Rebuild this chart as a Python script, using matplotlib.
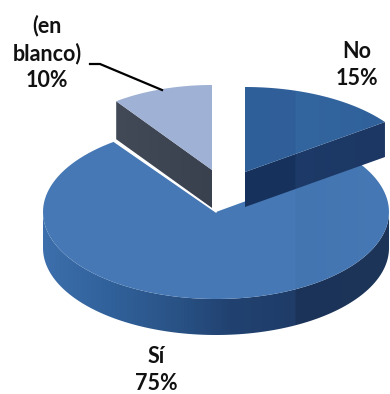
import numpy as np
import matplotlib
matplotlib.use("Agg")
import matplotlib.pyplot as plt
from matplotlib.colors import to_rgb
from matplotlib.patches import Polygon

labels = ["No", "Sí", "(en\nblanco)"]
values = [15, 75, 10]

def pt(cx, cy, rx, ry, ang):
    # ang in degrees, clockwise from the top
    a = np.radians(ang)
    return cx + rx * np.sin(a), cy - ry * np.cos(a)

def wedge(cx, cy, rx, ry, a1, a2):
    t = np.linspace(a1, a2, 120)
    x, y = pt(cx, cy, rx, ry, t)
    return np.r_[cx, x], np.r_[cy, y]

def grad(x, y, stops):
    # polygon filled with a left to right colour ramp
    xs = np.arange(0, 391)
    sx = [s[0] for s in stops]
    img = np.zeros((1, len(xs), 3))
    for k in range(3):
        img[0, :, k] = np.interp(xs, sx, [to_rgb(s[1])[k] for s in stops])
    poly = Polygon(np.c_[x, y], closed=True, fc="none", ec="none", transform=ax.transData)
    ax.add_patch(poly)
    im = ax.imshow(img, extent=[0, 390, 394, 0], aspect="auto", interpolation="nearest")
    im.set_clip_path(poly)

def rim(cx, cy, rx, ry, a1, a2, depth, stops):
    t = np.linspace(a1, a2, 200)
    x, y = pt(cx, cy, rx, ry, t)
    grad(np.r_[x, x[::-1]], np.r_[y, y[::-1] + depth], stops)

def cut(cx, cy, rx, ry, ang, depth, stops):
    xe, ye = pt(cx, cy, rx, ry, ang)
    grad([cx, xe, xe, cx], [cy, ye, ye + depth, cy + depth], stops)

fig = plt.figure(figsize=(3.9, 3.94), dpi=100)
ax = fig.add_axes([0, 0, 1, 1])
ax.axis("off")

total = sum(values)
no_end = 360 * values[0] / total
si_end = no_end + 360 * values[1] / total

# Sí
cx, cy, rx, ry, depth = 216, 212, 173, 87, 36
rim(cx, cy, rx, ry, 90, 270, depth, [(44, "#3d6fac"), (100, "#32639d"), (170, "#2a5488"), (230, "#214271"),
                                     (295, "#1f3c68"), (297, "#1b3358"), (389, "#1d3558")])
x, y = wedge(cx, cy, rx, ry, no_end, si_end)
grad(x, y, [(44, "#4779b6"), (295, "#4678b5"), (297, "#4375b1"), (389, "#4678b5")])
xe, ye = pt(cx, cy, rx, ry, si_end)
ax.plot([cx, xe], [cy, ye], color="white", lw=1)

# No
cx, cy, rx, ry, depth = 245, 172, 173, 85, 35
cut(cx, cy, rx, ry, no_end, depth, [(245, "#16315c"), (295, "#16315c"), (297, "#1c3a68"), (385, "#1c3763")])
x, y = wedge(cx, cy, rx, ry, 0, no_end)
grad(x, y, [(245, "#30609a"), (295, "#2f5e98"), (297, "#33659f"), (385, "#30619b")])

# (en blanco)
cx, cy, rx, ry, depth = 212, 170, 163, 85, 38
cut(cx, cy, rx, ry, si_end, depth, [(116, "#434a57"), (212, "#3a414e")])
x, y = wedge(cx, cy, rx, ry, si_end, 360)
ax.fill(x, y, color="#9fb1d4", lw=0)

# labels
font = dict(family="Lato", fontweight="bold", fontsize=15.5, color="#111111", ha="center", va="center", linespacing=1.35)
ax.text(357, 65, labels[0] + "\n%d%%" % values[0], **font)
ax.text(156, 370, labels[1] + "\n%d%%" % values[1], **font)
ax.text(47, 53, labels[2] + "\n%d%%" % values[2], **font)
ax.plot([90, 100, 162], [64, 64, 90], color="black", lw=1.6)

ax.set_xlim(0, 390)
ax.set_ylim(394, 0)
fig.savefig("out.png", dpi=100)
